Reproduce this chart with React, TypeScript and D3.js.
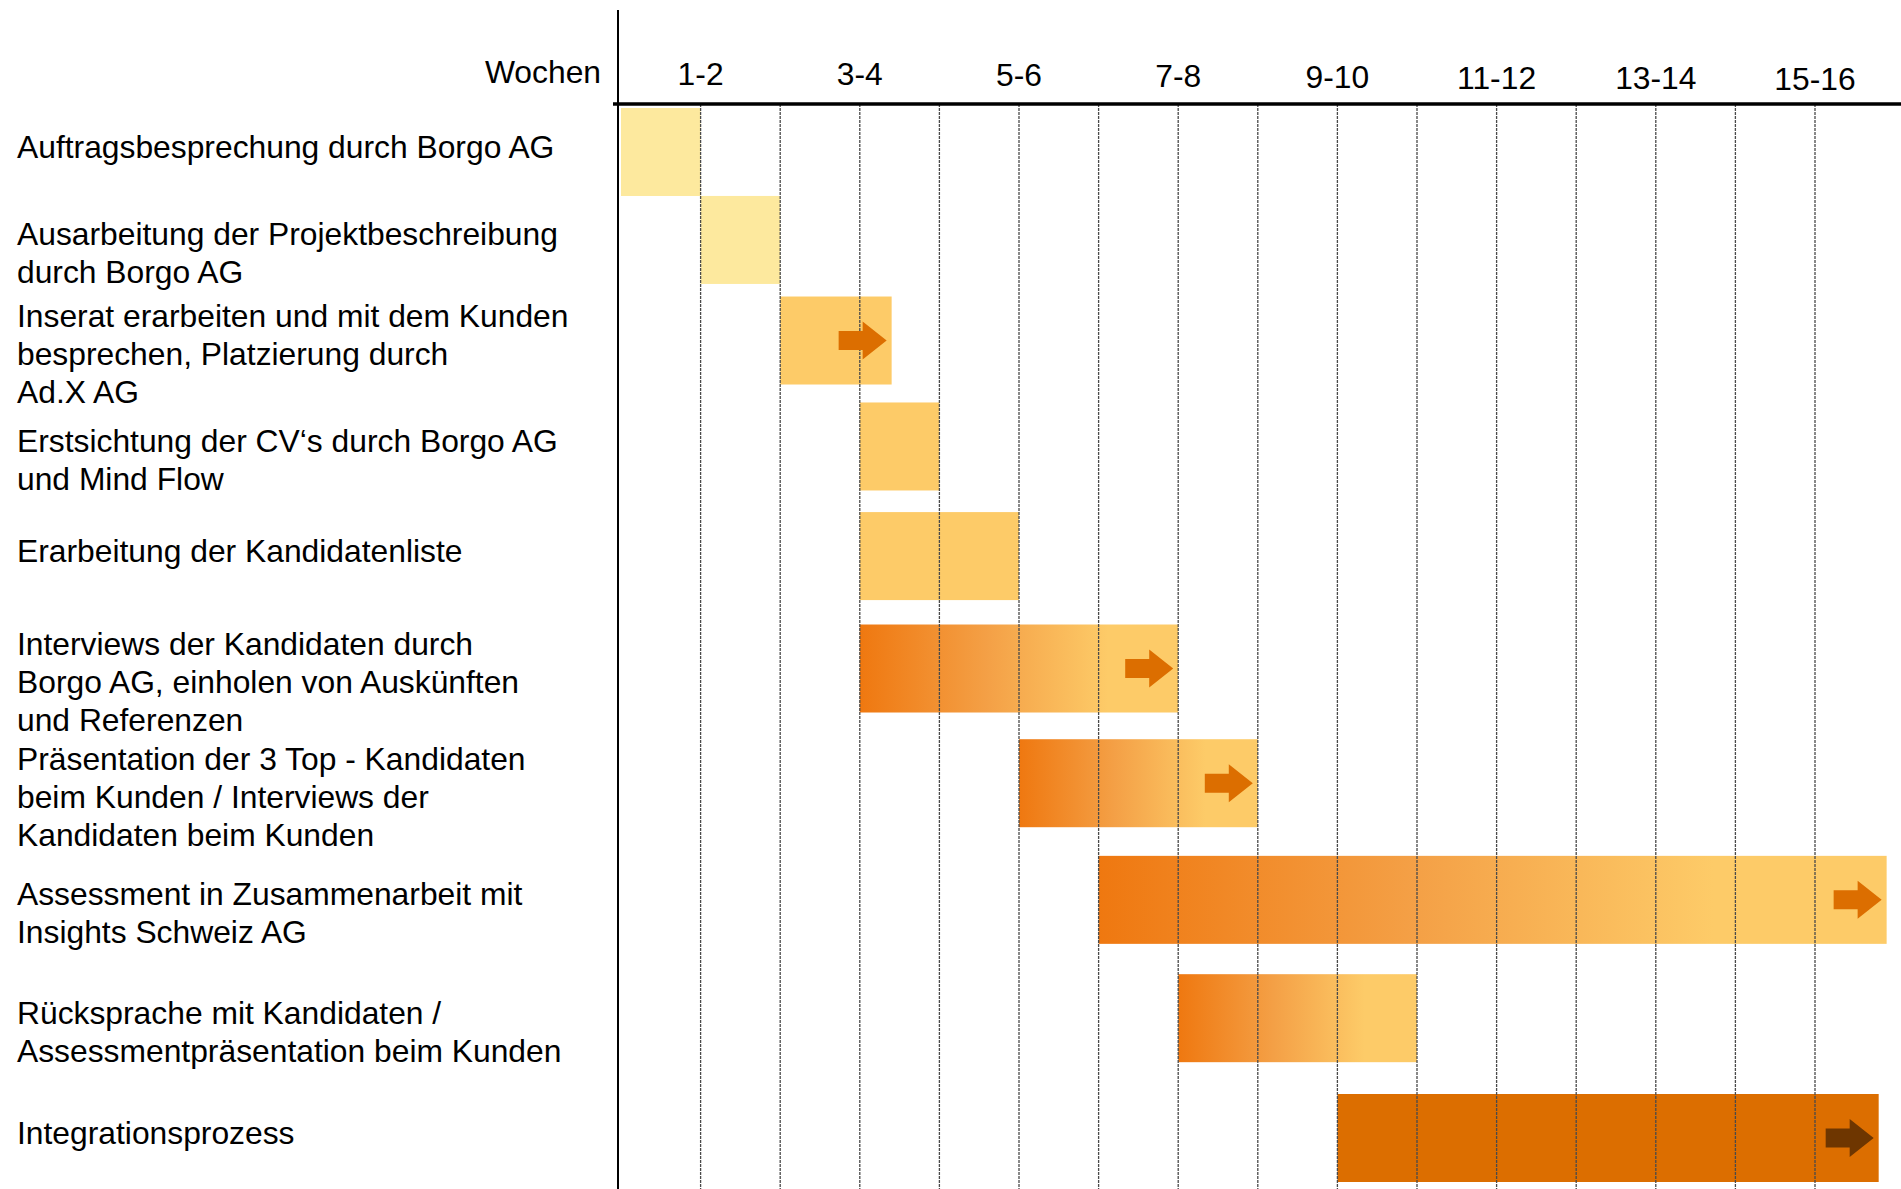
import React from "react";
import * as d3 from "d3";

// ---- data ----
const taskLabels: string[][] = [
  ["Auftragsbesprechung durch Borgo AG"],
  ["Ausarbeitung der Projektbeschreibung", "durch Borgo AG"],
  ["Inserat erarbeiten und mit dem Kunden", "besprechen, Platzierung durch", "Ad.X AG"],
  ["Erstsichtung der CV‘s durch Borgo AG", "und Mind Flow"],
  ["Erarbeitung der Kandidatenliste"],
  ["Interviews der Kandidaten durch", "Borgo AG, einholen von Auskünften", "und Referenzen"],
  ["Präsentation der 3 Top - Kandidaten", "beim Kunden / Interviews der", "Kandidaten beim Kunden"],
  ["Assessment in Zusammenarbeit mit", "Insights Schweiz AG"],
  ["Rücksprache mit Kandidaten /", "Assessmentpräsentation beim Kunden"],
  ["Integrationsprozess"],
];
const taskStart: number[] = [0, 1, 2, 3, 3, 3, 5, 6, 7, 9];
const taskEnd: number[] = [1, 2, 3.4, 4, 5, 7, 8, 15.9, 10, 15.8];
const taskPhase: string[] = ["auftrag", "auftrag", "suche", "suche", "suche", "auswahl", "auswahl", "auswahl", "auswahl", "integration"];
const taskOngoing: boolean[] = [false, false, true, false, false, true, true, true, false, true];
const weekLabels: string[] = ["1-2", "3-4", "5-6", "7-8", "9-10", "11-12", "13-14", "15-16"];
const weekLabelPos: number[] = [1, 3, 5, 7, 9, 11, 13, 15];
const gridWeeks: number[] = [1, 2, 3, 4, 5, 6, 7, 8, 9, 10, 11, 12, 13, 14, 15];
const headerLabel = "Wochen";

// ---- styles ----
const W = 1901;
const H = 1189;
const FONT = "'Liberation Sans', Arial, Helvetica, sans-serif";
const FS = 31.8;
const LINE = 38;
const BAR_H = 88;
const ORANGE = "#EF7810";
const GOLD = "#FDCB68";
const phaseFill: Record<string, string> = {
  auftrag: "#FDE99E",
  suche: GOLD,
  auswahl: "url(#grad)",
  integration: "#DC6E00",
};
const arrowFill: Record<string, string> = {
  auftrag: "#DC6E00",
  suche: "#DC6E00",
  auswahl: "#DC6E00",
  integration: "#6E3600",
};

export default function App() {
  const x = d3.scaleLinear().domain([0, 16]).range([621, 1894.6]);
  const rowIdx = d3.range(taskLabels.length);
  const y = d3.scalePow().exponent(1.1).domain([0, rowIdx.length - 1]).range([108, 1094]);
  const axisX = 618;
  const axisY = 104;

  const arrowPath = (tx: number, cy: number) => {
    const p = d3.path();
    p.moveTo(tx - 48, cy - 9.5);
    p.lineTo(tx - 24, cy - 9.5);
    p.lineTo(tx - 24, cy - 19);
    p.lineTo(tx, cy);
    p.lineTo(tx - 24, cy + 19);
    p.lineTo(tx - 24, cy + 9.5);
    p.lineTo(tx - 48, cy + 9.5);
    p.closePath();
    return p.toString();
  };

  return (
    <div style={{ position: "absolute", left: 0, top: 0 }}>
      <svg width={W} height={H} style={{ display: "block", background: "#fff" }} fontFamily={FONT}>
        <defs>
          <linearGradient id="grad" x1="0" x2="1" y1="0" y2="0">
            <stop offset="0" stopColor={ORANGE} />
            <stop offset="0.4" stopColor="#F4A046" />
            <stop offset="0.78" stopColor={GOLD} />
            <stop offset="1" stopColor={GOLD} />
          </linearGradient>
        </defs>
        <rect x={0} y={0} width={W} height={H} fill="#fff" />

        {/* bars */}
        {rowIdx.map((i) => {
          const x0 = x(taskStart[i]);
          const x1 = x(taskEnd[i]);
          const top = y(i);
          return (
            <rect key={"bar" + i} x={x0} y={top} width={x1 - x0} height={BAR_H} fill={phaseFill[taskPhase[i]]} />
          );
        })}

        {/* grid lines */}
        {gridWeeks.map((w) => (
          <line
            key={"g" + w}
            x1={x(w)}
            x2={x(w)}
            y1={axisY}
            y2={H}
            stroke="#4a4a4a"
            strokeWidth={1.3}
            strokeDasharray="3,1"
          />
        ))}

        {/* arrows */}
        {rowIdx
          .filter((i) => taskOngoing[i])
          .map((i) => (
            <path
              key={"ar" + i}
              d={arrowPath(x(taskEnd[i]) - 5, y(i) + BAR_H / 2)}
              fill={arrowFill[taskPhase[i]]}
            />
          ))}

        {/* axes */}
        <line x1={axisX} x2={axisX} y1={10} y2={H} stroke="#000" strokeWidth={2} />
        <line x1={613} x2={W} y1={axisY} y2={axisY} stroke="#000" strokeWidth={3.5} />

        {/* header */}
        <text x={601} y={83} fontSize={FS} textAnchor="end" fill="#000">
          {headerLabel}
        </text>
        {weekLabels.map((lab, k) => (
          <text key={"wl" + k} x={x(weekLabelPos[k])} y={84.5 + k * 0.8} fontSize={FS} textAnchor="middle" fill="#000">
            {lab}
          </text>
        ))}

        {/* row labels */}
        {rowIdx.map((i) => {
          const lines = taskLabels[i];
          const shift = lines.length === 1 ? -5 : 13;
          const cy = y(i) + BAR_H / 2 + shift;
          const firstBase = cy - ((lines.length - 1) * LINE) / 2 + FS * 0.358;
          return (
            <text key={"lab" + i} x={17} fontSize={FS} fill="#000">
              {lines.map((ln, j) => (
                <tspan key={j} x={17} y={firstBase + j * LINE}>
                  {ln}
                </tspan>
              ))}
            </text>
          );
        })}
      </svg>
    </div>
  );
}
